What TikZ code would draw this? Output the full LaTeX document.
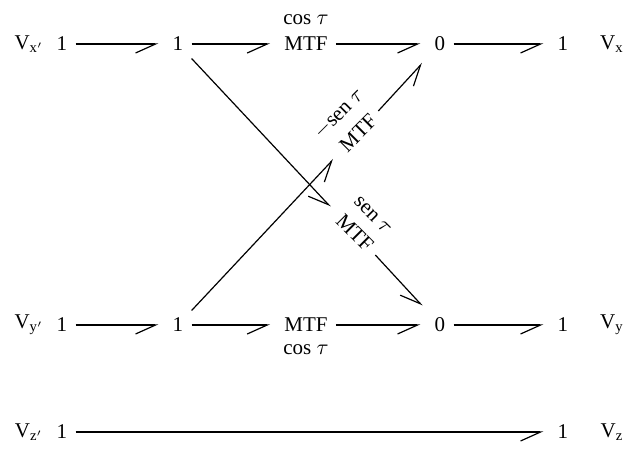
\documentclass[tikz,border=0pt]{standalone}
\usepackage{fontspec}
\setmainfont{Liberation Serif}
\usepackage{tikz}
\usetikzlibrary{arrows.meta, positioning}
\tikzset{
	gnode/.style={inner sep=4pt},
	mtf/.style={inner sep=4pt},
	gain/.style={inner sep=2pt},
	branch/.style={-{Straight Barb[harpoon, swap, length=10pt, width=9pt]}, line width=0.6pt, shorten >=3pt},
}
\begin{document}
\begin{tikzpicture}[x=0.5pt, y=-0.5pt, font=\fontsize{10.5}{12}\selectfont]
	\useasboundingbox (0,0) rectangle (629,461);
	% inputs and outputs
	\foreach \r/\y/\s in {1/44/x, 2/325/y, 3/432/z}{
		\node (vi\r) at (29,\y) {V$_{\mathrm{\s'}}$};
		\node[gnode] (a\r) at (62,\y) {1};
		\node[gnode] (d\r) at (563,\y) {1};
		\node (vo\r) at (612,\y) {V$_{\mathrm{\s}}$};
	}
	% direct branches
	\foreach \r/\y in {1/44, 2/325}{
		\node[gnode] (b\r) at (178,\y) {1};
		\node[mtf] (m\r) at (306,\y) {MTF};
		\node[gnode] (c\r) at (440,\y) {0};
		\draw[branch] (a\r) -- (b\r);
		\draw[branch] (b\r) -- (m\r);
		\draw[branch] (m\r) -- (c\r);
		\draw[branch] (c\r) -- (d\r);
	}
	\node[gain, anchor=south] (g1) at (m1.north) {cos $\tau$};
	\node[gain, anchor=north] (g2) at (m2.south) {cos $\tau$};
	% cross coupling
	\node[mtf, rotate=-45] (mA) at (355,233) {MTF};
	\node[gain, rotate=-45, anchor=south] (gA) at (mA.north) {sen $\tau$};
	\node[mtf, rotate=45] (mB) at (358,133) {MTF};
	\node[gain, rotate=45, anchor=south] (gB) at (mB.north) {$-$sen $\tau$};
	\draw[branch] (b1) -- (mA);
	\draw[branch] (mA) -- (c2);
	\draw[branch] (b2) -- (mB);
	\draw[branch] (mB) -- (c1);
	\draw[branch] (a3) -- (d3);
\end{tikzpicture}
\end{document}
